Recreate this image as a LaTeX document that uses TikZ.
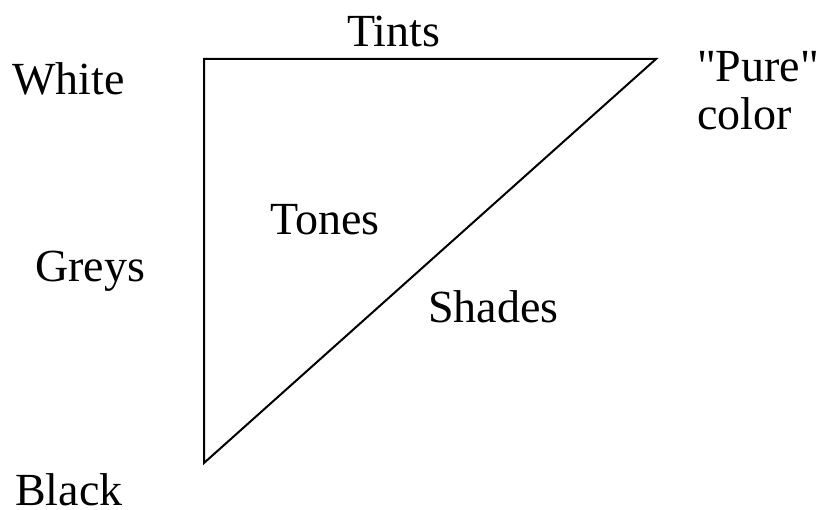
\documentclass[tikz,border=0pt]{standalone}
\usepackage{fontspec}
\newfontfamily\plainserif{Liberation Serif}
\begin{document}
\begin{tikzpicture}[x=1pt,y=-1pt,
  lbl/.style={anchor=base west,inner sep=0pt,font=\plainserif\fontsize{46}{48}\selectfont},
  edge/.style={line width=2pt,line join=miter}]
\useasboundingbox (0,0) rectangle (822,510);
\coordinate (W) at (204,59);
\coordinate (P) at (656,59);
\coordinate (B) at (204,463);
\draw[edge] (W) -- (P) -- (B) -- cycle;
\node[lbl] (white) at (12,95) {White};
\node[lbl] (tints) at (347,47) {Tints};
\node[lbl] (pure) at (697,82) {"Pure"};
\node[lbl] (color) at (697,130) {color};
\node[lbl] (tones) at (270,235) {Tones};
\node[lbl] (greys) at (35,282) {Greys};
\node[lbl] (shades) at (428,323) {Shades};
\node[lbl] (black) at (15,505) {Black};
\end{tikzpicture}
\end{document}
